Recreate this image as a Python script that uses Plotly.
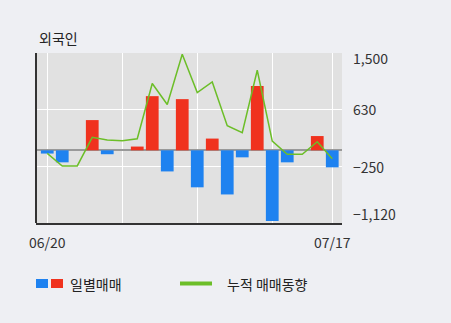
import plotly.graph_objects as go

dates = ["06/20", "06/21", "06/24", "06/25", "06/26", "06/27", "06/28",
         "07/01", "07/02", "07/03", "07/04", "07/05", "07/08", "07/09",
         "07/10", "07/11", "07/12", "07/15", "07/16", "07/17"]
daily = [-50, -185, 0, 466, -60, 0, 58, 835, -325, 789,
         -570, 181, -680, -108, 993, -1090, -185, 0, 220, -262]
cumulative = [-46, -241, -241, 200, 158, 148, 178, 1030, 707, 1480,
              891, 1054, 378, 271, 1234, 143, -61, -61, 132, -129]
y_ticks = [-1120, -250, 630, 1500]
y_tick_labels = ["\u22121,120", "\u2212250", "630", "1,500"]
x_grid = [dates[0], dates[5], dates[10], dates[15], dates[19]]
x_grid_labels = ["06/20", "", "", "", "07/17"]

RED = "#f0321e"
BLUE = "#1e82f0"
GREEN = "#6cbe28"
FONT = "Noto Sans CJK KR"

W, H = 451, 323
L, R, T, B = 36, 342, 53, 223


def px(x):
    return (x - L) / (R - L)


def py(y):
    return (B - y) / (B - T)


fig = go.Figure()
fig.add_trace(go.Bar(
    x=dates, y=daily, width=0.85,
    marker=dict(color=[RED if v >= 0 else BLUE for v in daily], line=dict(width=0)),
    showlegend=False, hoverinfo="skip",
))
fig.add_trace(go.Scatter(
    x=dates, y=cumulative, mode="lines",
    line=dict(color=GREEN, width=1.5),
    showlegend=False, hoverinfo="skip",
))

shapes = [
    dict(type="line", xref="paper", yref="paper", x0=0, x1=0, y0=0, y1=1,
         line=dict(color="#333333", width=2)),
    dict(type="rect", xref="paper", yref="paper", x0=px(36), x1=px(48), y0=py(279), y1=py(288),
         fillcolor=BLUE, line=dict(width=0)),
    dict(type="rect", xref="paper", yref="paper", x0=px(51), x1=px(63), y0=py(279), y1=py(288),
         fillcolor=RED, line=dict(color=RED, width=0)),
    dict(type="line", xref="paper", yref="paper", x0=px(180), x1=px(212), y0=py(283.5), y1=py(283.5),
         line=dict(color=GREEN, width=4)),
]

annotations = [
    dict(text="외국인", xref="paper", yref="paper", x=px(37), y=py(38),
         xanchor="left", yanchor="middle", showarrow=False,
         font=dict(family=FONT, size=14, color="#222222")),
    dict(text="일별매매", xref="paper", yref="paper", x=px(68), y=py(283.5),
         xanchor="left", yanchor="middle", showarrow=False,
         font=dict(family=FONT, size=14, color="#222222")),
    dict(text="누적 매매동향", xref="paper", yref="paper", x=px(225), y=py(283.5),
         xanchor="left", yanchor="middle", showarrow=False,
         font=dict(family=FONT, size=14, color="#222222")),
]

y_shift = {1500: -5, -1120: 9}
for v, t in zip(y_ticks, y_tick_labels):
    annotations.append(dict(
        text=t, xref="paper", yref="y", x=1, y=v, xanchor="left", yanchor="middle",
        xshift=9, yshift=y_shift.get(v, 0), showarrow=False,
        font=dict(family=FONT, size=14, color="#333333"),
    ))

fig.update_layout(
    width=W, height=H,
    margin=dict(l=L, r=W - R, t=T, b=H - B, pad=0),
    paper_bgcolor="#eeeff3",
    plot_bgcolor="#e1e1e1",
    barmode="overlay",
    shapes=shapes,
    annotations=annotations,
    font=dict(family=FONT, size=14, color="#333333"),
    xaxis=dict(
        type="category", range=[-0.75, 19.65],
        tickmode="array", tickvals=x_grid, ticktext=x_grid_labels,
        showgrid=True, gridcolor="#ffffff", gridwidth=1,
        showline=True, linecolor="#333333", linewidth=2,
        ticks="", ticklen=0, ticklabelstandoff=6,
        tickfont=dict(family=FONT, size=14, color="#333333"),
        fixedrange=True,
    ),
    yaxis=dict(
        side="right", range=[-1120, 1500],
        tickmode="array", tickvals=y_ticks, showticklabels=False,
        showgrid=True, gridcolor="#ffffff", gridwidth=1,
        zeroline=True, zerolinecolor="#999999", zerolinewidth=2,
        showline=False, ticks="",
        fixedrange=True,
    ),
)

fig.write_html("out.html", config=dict(displayModeBar=False))
